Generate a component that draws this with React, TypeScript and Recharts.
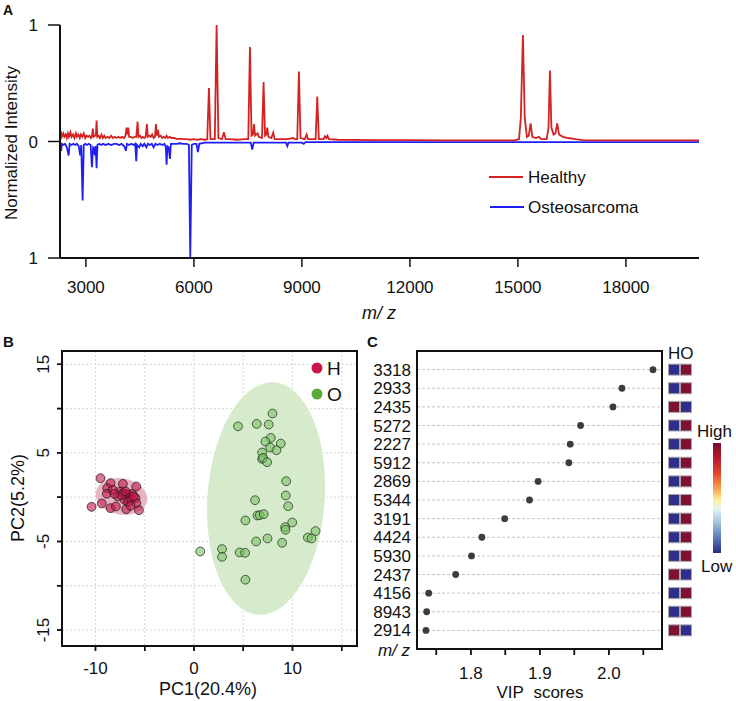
import React from 'react';
import { LineChart, Line, XAxis, YAxis, ReferenceArea, ComposedChart, Scatter, CartesianGrid } from 'recharts';

const FONT = '"Liberation Sans", Arial, Helvetica, sans-serif';
const INK = '#111111';

// ---------- Panel A: spectra ----------
const healthyMz = [
  2280, 2300, 2330, 2370, 2400, 2440, 2470, 2500, 2530, 2570, 2600, 2640, 2680, 2720, 2750, 2790, 2830, 2860, 2900, 2940,
  2980, 3020, 3060, 3100, 3140, 3170, 3194, 3215, 3250, 3275, 3296, 3318, 3350, 3390, 3430, 3470, 3510, 3550, 3600, 3650,
  3700, 3750, 3800, 3850, 3900, 3950, 4000, 4060, 4100, 4130, 4155, 4176, 4200, 4250, 4300, 4350, 4400, 4435, 4460, 4500,
  4540, 4580, 4620, 4660, 4694, 4720, 4760, 4800, 4840, 4880, 4920, 4944, 4970, 5000, 5030, 5080, 5120, 5160, 5200, 5240,
  5280, 5330, 5380, 5450, 5520, 5600, 5700, 5800, 5900, 6000, 6100, 6200, 6300, 6370, 6417, 6460, 6580, 6630, 6680, 6780,
  6833, 6880, 7000, 7200, 7400, 7510, 7556, 7600, 7640, 7667, 7700, 7769, 7800, 7890, 7935, 7975, 8010, 8037, 8070, 8150,
  8204, 8240, 8400, 8600, 8759, 8800, 8870, 8917, 8960, 9080, 9130, 9170, 9380, 9426, 9470, 9600, 9640, 9680, 9710, 9750,
  10000, 11000, 12000, 13000, 14000, 14900, 15030, 15080, 15139, 15190, 15250, 15300, 15352, 15400, 15500, 15583, 15650, 15800, 15850, 15889,
  15930, 15990, 16040, 16092, 16140, 16250, 16400, 16600, 16800, 17500, 20030,
];
const healthyInt = [
  0.06, 0.09, 0.04, 0.07, 0.04, 0.06, 0.03, 0.07, 0.04, 0.08, 0.04, 0.06, 0.03, 0.07, 0.04, 0.06, 0.03, 0.06, 0.04, 0.07,
  0.03, 0.05, 0.04, 0.05, 0.03, 0.05, 0.11, 0.04, 0.05, 0.05, 0.18, 0.04, 0.05, 0.03, 0.06, 0.03, 0.05, 0.03, 0.04, 0.03,
  0.05, 0.03, 0.04, 0.03, 0.04, 0.03, 0.04, 0.03, 0.05, 0.12, 0.06, 0.12, 0.04, 0.04, 0.03, 0.04, 0.04, 0.17, 0.04, 0.05,
  0.03, 0.04, 0.03, 0.04, 0.15, 0.04, 0.05, 0.04, 0.06, 0.03, 0.04, 0.15, 0.05, 0.1, 0.04, 0.05, 0.03, 0.04, 0.03, 0.05,
  0.03, 0.04, 0.03, 0.03, 0.02, 0.025, 0.02, 0.02, 0.015, 0.02, 0.015, 0.02, 0.015, 0.02, 0.46, 0.02, 0.02, 1.0, 0.03, 0.02,
  0.08, 0.02, 0.02, 0.015, 0.02, 0.02, 0.81, 0.05, 0.06, 0.15, 0.05, 0.07, 0.04, 0.03, 0.51, 0.05, 0.06, 0.12, 0.04, 0.03,
  0.077, 0.02, 0.02, 0.02, 0.03, 0.02, 0.02, 0.6, 0.03, 0.02, 0.06, 0.02, 0.02, 0.386, 0.02, 0.02, 0.045, 0.03, 0.05, 0.02,
  0.015, 0.012, 0.012, 0.01, 0.01, 0.01, 0.02, 0.2, 0.915, 0.2, 0.04, 0.05, 0.156, 0.04, 0.03, 0.04, 0.02, 0.02, 0.12, 0.61,
  0.12, 0.06, 0.07, 0.156, 0.06, 0.04, 0.03, 0.02, 0.012, 0.01, 0.01,
];
const osteoMz = [
  2280, 2310, 2333, 2380, 2420, 2470, 2519, 2550, 2600, 2650, 2700, 2750, 2800, 2842, 2870, 2908, 2940, 2980, 3030, 3080,
  3130, 3167, 3200, 3230, 3250, 3270, 3296, 3320, 3370, 3420, 3480, 3550, 3620, 3700, 3780, 3850, 3920, 3990, 4060, 4090,
  4111, 4140, 4200, 4260, 4330, 4370, 4398, 4420, 4480, 4520, 4580, 4620, 4680, 4720, 4780, 4830, 4880, 4930, 4990, 5050,
  5120, 5180, 5220, 5241, 5265, 5300, 5333, 5360, 5430, 5520, 5600, 5700, 5800, 5860, 5898, 5940, 6000, 6070, 6111, 6150,
  6300, 6800, 7300, 7580, 7620, 7660, 8200, 8560, 8593, 8630, 9000, 9050, 9100, 12000, 20030,
];
const osteoInt = [
  0.02, 0.08, 0.02, 0.03, 0.02, 0.05, 0.12, 0.02, 0.03, 0.02, 0.03, 0.02, 0.04, 0.12, 0.03, 0.506, 0.03, 0.02, 0.03, 0.02,
  0.03, 0.22, 0.05, 0.06, 0.12, 0.04, 0.23, 0.03, 0.02, 0.03, 0.02, 0.03, 0.02, 0.03, 0.02, 0.02, 0.03, 0.02, 0.04, 0.06,
  0.08, 0.02, 0.03, 0.02, 0.03, 0.02, 0.17, 0.03, 0.05, 0.02, 0.04, 0.02, 0.05, 0.02, 0.03, 0.02, 0.05, 0.02, 0.03, 0.02,
  0.03, 0.02, 0.05, 0.2, 0.04, 0.05, 0.15, 0.02, 0.02, 0.02, 0.015, 0.02, 0.02, 0.03, 1.0, 0.03, 0.02, 0.02, 0.09, 0.02,
  0.01, 0.01, 0.01, 0.01, 0.07, 0.01, 0.01, 0.01, 0.04, 0.01, 0.01, 0.02, 0.005, 0.005, 0.005,
];
const mzMajorTicks = [3000, 6000, 9000, 12000, 15000, 18000];
const mzMinorTicks = [4500, 7500, 10500, 13500, 16500, 19500];
const intensityMajorTicks = [-1, 0, 1];
const intensityMinorTicks = [-0.5, 0.5];
const MZ_DOMAIN: [number, number] = [2280, 20030];
const INT_DOMAIN: [number, number] = [-1, 1];

const healthyData = healthyMz.map((mz, i) => ({ mz, v: healthyInt[i] }));
const osteoData = osteoMz.map((mz, i) => ({ mz, v: -osteoInt[i] }));

// ---------- Panel B: PCA ----------
const hPc1 = [-9.49, -10.4, -9.36, -8.47, -8.81, -8.85, -8.24, -8.47, -7.93, -7.22, -5.86, -7.49, -7.22, -6.88, -6.54,
  -6.27, -6.78, -7.05, -6.71, -6.37, -5.93, -5.86, -6.88, -6.44, -5.59, -7.73, -7.39, -6.95, -6.13, -8.07];
const hPc2 = [2.14, -1.09, -0.71, 1.58, 1.02, 0.38, 0.83, -1.24, -1.05, 1.5, 1.2, 0.64, 0.45, 0.38, 0.26,
  0.38, -0.11, -0.3, -0.56, -0.3, -0.11, -0.68, -1.35, -0.98, -1.47, 0.08, 0.26, 0.64, 0.08, 0.38];
const oPc1 = [7.97, 4.47, 6.37, 7.59, 7.8, 7.25, 7.73, 8.81, 8.37, 6.92, 6.92, 7.02, 7.42, 9.36, 9.32, 6.2, 9.56, 5.22,
  6.44, 6.68, 7.08, 9.97, 9.25, 9.29, 12.34, 11.56, 11.93, 6.31, 7.46, 8.95, 0.64, 2.85, 2.85, 4.64, 5.19, 5.22];
const oPc2 = [9.44, 8.0, 8.27, 8.2, 6.69, 6.28, 5.6, 6.05, 5.3, 5.04, 4.32, 4.44, 3.95, 1.8, 0.19, -0.34, -1.02, -2.63,
  -2.07, -2.03, -1.92, -2.86, -3.38, -3.68, -3.83, -4.55, -4.66, -5.0, -4.66, -5.15, -6.13, -5.86, -6.73, -6.24, -6.28, -9.32];
const pcXTicks = [-10, -5, 0, 5, 10, 15];
const pcYTicks = [-15, -10, -5, 0, 5, 10, 15];
const PC1_DOMAIN: [number, number] = [-13.4, 16.55];
const PC2_DOMAIN: [number, number] = [-16.8, 16.5];
// confidence ellipses: centre, half-axes (data units), rotation (deg)
const hEllipse = { cx: -7.36, cy: 0.08, a: 2.64, b: 2.05, rot: 10 };
const oEllipse = { cx: 7.32, cy: -0.15, a: 5.95, b: 13.15, rot: 4 };

const hPoints = hPc1.map((x, i) => ({ x, y: hPc2[i] }));
const oPoints = oPc1.map((x, i) => ({ x, y: oPc2[i] }));

// ---------- Panel C: VIP ----------
const mzLabels = ['3318', '2933', '2435', '5272', '2227', '5912', '2869', '5344', '3191', '4424', '5930', '2437', '4156', '8943', '2914'];
const vipScores = [2.064, 2.019, 2.006, 1.959, 1.944, 1.942, 1.8975, 1.885, 1.849, 1.816, 1.801, 1.778, 1.739, 1.736, 1.735];
const hLevel = [0, 0, 1, 0, 0, 0, 0, 0, 0, 0, 0, 1, 0, 0, 1];
const oLevel = [1, 1, 0, 1, 1, 1, 1, 1, 1, 1, 1, 0, 1, 1, 0];
const vipTicks = [1.75, 1.8, 1.85, 1.9, 1.95, 2.0, 2.05];
const VIP_DOMAIN: [number, number] = [1.722, 2.077];
const ROW_DOMAIN: [number, number] = [-1, 15];
const rowTicks = mzLabels.map((_, i) => i);

const vipData = vipScores.map((v, i) => ({ x: v, y: i }));
const heatData = [
  ...hLevel.map((lv, i) => ({ x: 0, y: i, lv })),
  ...oLevel.map((lv, i) => ({ x: 1, y: i, lv })),
];
const HIGH = '#7e1230';
const LOW = '#2e2f8c';

// ---------- layout (page pixels) ----------
const B_POS = { left: 0, top: 330, width: 370, height: 371 };
const B_MARGIN = { top: 21, right: 13, bottom: 25, left: 22 };
const B_YAXIS_W = 40;
const B_XAXIS_H = 30;
const C_POS = { left: 370, top: 330, width: 366, height: 371 };
const C_MARGIN = { top: 21, right: 74, bottom: 22, left: 0 };
const C_YAXIS_W = 47;
const C_XAXIS_H = 30;

const plotBox = (pos: any, m: any, yw: number, xh: number) => ({
  left: pos.left + m.left + yw,
  right: pos.left + pos.width - m.right,
  top: pos.top + m.top,
  bottom: pos.top + pos.height - m.bottom - xh,
});
const B_BOX = plotBox(B_POS, B_MARGIN, B_YAXIS_W, B_XAXIS_H);
const C_BOX = plotBox(C_POS, C_MARGIN, C_YAXIS_W, C_XAXIS_H);
const lin = (v: number, d: [number, number], r0: number, r1: number) => r0 + ((v - d[0]) / (d[1] - d[0])) * (r1 - r0);

// ---------- tick label renderers ----------
const ATickX = (p: any) => (
  <text x={p.x} y={p.y + 26} textAnchor="middle" fontSize={17} fontFamily={FONT} fill={INK}>{p.payload.value}</text>
);
const ATickY = (p: any) => (
  <text x={p.x - 10} y={p.y + 6} textAnchor="end" fontSize={17} fontFamily={FONT} fill={INK}>{Math.abs(p.payload.value)}</text>
);
const BTickX = (p: any) => {
  const v = p.payload.value;
  return v % 10 === 0 ? (
    <text x={p.x} y={p.y + 23} textAnchor="middle" fontSize={17} fontFamily={FONT} fill={INK}>{v}</text>
  ) : <g />;
};
const BTickY = (p: any) => {
  const v = p.payload.value;
  return Math.abs(v) % 10 === 5 ? (
    <text transform={`translate(${p.x - 8},${p.y}) rotate(-90)`} textAnchor="middle" fontSize={17} fontFamily={FONT} fill={INK}>{v}</text>
  ) : <g />;
};
const CTickX = (p: any) => {
  const v = p.payload.value;
  const show = Math.abs(Math.round(v * 10) - v * 10) < 1e-6;
  return show ? (
    <text x={p.x} y={p.y + 24} textAnchor="middle" fontSize={17} fontFamily={FONT} fill={INK}>{v.toFixed(1)}</text>
  ) : <g />;
};
const CTickY = (p: any) => (
  <text x={p.x - 6} y={p.y + 6} textAnchor="end" fontSize={17} fontFamily={FONT} fill={INK}>{mzLabels[p.payload.value]}</text>
);

const ellipseShape = (rot: number, fill: string) => (p: any) => {
  const cx = p.x + p.width / 2;
  const cy = p.y + p.height / 2;
  return (
    <ellipse cx={cx} cy={cy} rx={Math.abs(p.width) / 2} ry={Math.abs(p.height) / 2} fill={fill} stroke="none"
      transform={`rotate(${rot},${cx},${cy})`} />
  );
};

const txt = { fontFamily: FONT, fill: INK } as const;
const axisStroke = { stroke: '#111', strokeWidth: 2 };
const tickStroke = { stroke: '#111', strokeWidth: 1.5 };

export default function App() {
  return (
    <div style={{ position: 'absolute', left: 0, top: 0, width: 736, height: 701, background: '#fff', fontFamily: FONT }}>
      {/* Panel A */}
      <div style={{ position: 'absolute', left: 0, top: 0 }}>
        <LineChart width={736} height={300} margin={{ top: 25, right: 37, bottom: 12, left: 20 }}>
          <XAxis type="number" dataKey="mz" domain={MZ_DOMAIN} allowDataOverflow ticks={mzMinorTicks} interval={0}
            height={0} tickSize={5} tick={false} tickLine={tickStroke} axisLine={axisStroke} />
          <YAxis type="number" domain={INT_DOMAIN} allowDataOverflow ticks={intensityMinorTicks} interval={0}
            width={0} tickSize={5} tick={false} tickLine={tickStroke} axisLine={axisStroke} />
          <XAxis xAxisId="main" type="number" dataKey="mz" domain={MZ_DOMAIN} allowDataOverflow ticks={mzMajorTicks}
            interval={0} tickSize={9} tickMargin={0} height={30} axisLine={axisStroke} tickLine={tickStroke}
            tick={(p: any) => <ATickX {...p} />} />
          <YAxis yAxisId="main" type="number" domain={INT_DOMAIN} allowDataOverflow ticks={intensityMajorTicks}
            interval={0} tickSize={12} tickMargin={0} width={40} axisLine={axisStroke} tickLine={tickStroke}
            tick={(p: any) => <ATickY {...p} />} />
          <XAxis xAxisId="top" orientation="top" type="number" domain={MZ_DOMAIN} allowDataOverflow height={0}
            tick={false} tickLine={false} axisLine={axisStroke} />
          <YAxis yAxisId="right" orientation="right" type="number" domain={INT_DOMAIN} allowDataOverflow width={0}
            tick={false} tickLine={false} axisLine={axisStroke} />
          <Line data={osteoData} dataKey="v" type="linear" stroke="#1f1ff5" strokeWidth={1.8} dot={false}
            isAnimationActive={false} />
          <Line data={healthyData} dataKey="v" type="linear" stroke="#d42222" strokeWidth={1.8} dot={false}
            isAnimationActive={false} />
        </LineChart>
      </div>

      {/* Panel B */}
      <div style={{ position: 'absolute', left: B_POS.left, top: B_POS.top }}>
        <ComposedChart width={B_POS.width} height={B_POS.height} margin={B_MARGIN}>
          <CartesianGrid stroke="#d8d8d8" strokeDasharray="2 2" />
          <XAxis type="number" dataKey="x" domain={PC1_DOMAIN} allowDataOverflow ticks={pcXTicks} interval={0}
            tickSize={5} tickMargin={0} height={B_XAXIS_H} axisLine={axisStroke} tickLine={tickStroke}
            tick={(p: any) => <BTickX {...p} />} />
          <YAxis type="number" dataKey="y" domain={PC2_DOMAIN} allowDataOverflow ticks={pcYTicks} interval={0}
            tickSize={5} tickMargin={0} width={B_YAXIS_W} axisLine={axisStroke} tickLine={tickStroke}
            tick={(p: any) => <BTickY {...p} />} />
          <ReferenceArea x1={hEllipse.cx - hEllipse.a} x2={hEllipse.cx + hEllipse.a} y1={hEllipse.cy - hEllipse.b}
            y2={hEllipse.cy + hEllipse.b} shape={ellipseShape(hEllipse.rot, '#e6b5c6')} ifOverflow="visible" />
          <ReferenceArea x1={oEllipse.cx - oEllipse.a} x2={oEllipse.cx + oEllipse.a} y1={oEllipse.cy - oEllipse.b}
            y2={oEllipse.cy + oEllipse.b} shape={ellipseShape(oEllipse.rot, '#d6ebcc')} ifOverflow="visible" />
          <Scatter data={oPoints} dataKey="y" isAnimationActive={false}
            shape={(p: any) => <circle cx={p.cx} cy={p.cy} r={4.4} fill="#7cc166" fillOpacity={0.6} stroke="#2a3a25" strokeWidth={0.8} />} />
          <Scatter data={hPoints} dataKey="y" isAnimationActive={false}
            shape={(p: any) => <circle cx={p.cx} cy={p.cy} r={4.4} fill="#c8174a" fillOpacity={0.6} stroke="#2a1a1e" strokeWidth={0.8} />} />
        </ComposedChart>
      </div>

      {/* Panel C */}
      <div style={{ position: 'absolute', left: C_POS.left, top: C_POS.top }}>
        <ComposedChart width={C_POS.width} height={C_POS.height} margin={C_MARGIN}>
          <CartesianGrid vertical={false} stroke="#c4c4c4" strokeDasharray="3 2" />
          <XAxis type="number" dataKey="x" domain={VIP_DOMAIN} allowDataOverflow ticks={vipTicks} interval={0}
            tickSize={6} tickMargin={0} height={C_XAXIS_H} axisLine={axisStroke} tickLine={tickStroke}
            tick={(p: any) => <CTickX {...p} />} />
          <YAxis type="number" dataKey="y" domain={ROW_DOMAIN} reversed allowDataOverflow ticks={rowTicks} interval={0}
            tickSize={0} tickMargin={0} width={C_YAXIS_W} axisLine={axisStroke} tickLine={false}
            tick={(p: any) => <CTickY {...p} />} />
          <Scatter data={vipData} dataKey="y" isAnimationActive={false}
            shape={(p: any) => <circle cx={p.cx} cy={p.cy} r={3.4} fill="#3c3c3c" />} />
        </ComposedChart>
      </div>

      {/* Panel C heatmap */}
      <div style={{ position: 'absolute', left: 650, top: 330 }}>
        <ComposedChart width={60} height={371} margin={{ top: 21, right: 12, bottom: 52, left: 12 }}>
          <XAxis type="number" dataKey="x" domain={[-1, 2]} hide height={0} />
          <YAxis type="number" dataKey="y" domain={ROW_DOMAIN} reversed hide width={0} />
          <Scatter data={heatData} dataKey="y" isAnimationActive={false}
            shape={(p: any) => (
              <rect x={p.cx - 5.5} y={p.cy - 5.5} width={11} height={11} fill={p.payload.lv ? HIGH : LOW}
                stroke="#a8a8a8" strokeWidth={1} />
            )} />
        </ComposedChart>
      </div>

      {/* Annotations: frames, tick marks of B and C, titles, legends */}
      <svg width={736} height={701} style={{ position: 'absolute', left: 0, top: 0, pointerEvents: 'none' }}>
        <defs>
          <linearGradient id="cbar" x1="0" y1="0" x2="0" y2="1">
            <stop offset="0" stopColor="#7a0b2e" />
            <stop offset="0.13" stopColor="#b3192b" />
            <stop offset="0.28" stopColor="#e04a2f" />
            <stop offset="0.42" stopColor="#f9a54d" />
            <stop offset="0.52" stopColor="#fbf3a2" />
            <stop offset="0.6" stopColor="#e6f3f4" />
            <stop offset="0.72" stopColor="#a1c7df" />
            <stop offset="0.86" stopColor="#5a7db6" />
            <stop offset="1" stopColor="#2a2b86" />
          </linearGradient>
        </defs>

        {/* B frame + ticks */}
        <rect x={B_BOX.left} y={B_BOX.top} width={B_BOX.right - B_BOX.left} height={B_BOX.bottom - B_BOX.top}
          fill="none" stroke={INK} strokeWidth={2} />
        {pcXTicks.map((v) => {
          const x = lin(v, PC1_DOMAIN, B_BOX.left, B_BOX.right);
          return <line key={`bx${v}`} x1={x} x2={x} y1={B_BOX.bottom} y2={B_BOX.bottom + 5} stroke={INK} strokeWidth={1.5} />;
        })}
        {pcYTicks.map((v) => {
          const y = lin(v, PC2_DOMAIN, B_BOX.bottom, B_BOX.top);
          return <line key={`by${v}`} x1={B_BOX.left - 5} x2={B_BOX.left} y1={y} y2={y} stroke={INK} strokeWidth={1.5} />;
        })}

        {/* C frame + ticks */}
        <rect x={C_BOX.left} y={C_BOX.top} width={C_BOX.right - C_BOX.left} height={C_BOX.bottom - C_BOX.top}
          fill="none" stroke={INK} strokeWidth={2} />
        {vipTicks.map((v) => {
          const x = lin(v, VIP_DOMAIN, C_BOX.left, C_BOX.right);
          return <line key={`cx${v}`} x1={x} x2={x} y1={C_BOX.bottom} y2={C_BOX.bottom + 6} stroke={INK} strokeWidth={1.5} />;
        })}

        <text x={3} y={15} fontSize={14} fontWeight="bold" {...txt}>A</text>
        <text x={3} y={347} fontSize={15} fontWeight="bold" {...txt}>B</text>
        <text x={367} y={347} fontSize={15} fontWeight="bold" {...txt}>C</text>

        <text transform="translate(17,143) rotate(-90)" textAnchor="middle" fontSize={17} {...txt}>Normalized Intensity</text>
        <text x={379} y={319} textAnchor="middle" fontSize={18} fontStyle="italic" {...txt}>m/ z</text>
        <line x1={489} x2={523} y1={177} y2={177} stroke="#d42222" strokeWidth={2} />
        <text x={528} y={183} fontSize={17} {...txt}>Healthy</text>
        <line x1={490} x2={524} y1={207} y2={207} stroke="#1f1ff5" strokeWidth={2} />
        <text x={528} y={213} fontSize={17} {...txt}>Osteosarcoma</text>

        <text transform="translate(24,498) rotate(-90)" textAnchor="middle" fontSize={18} {...txt}>PC2(5.2%)</text>
        <text x={208} y={695} textAnchor="middle" fontSize={18} {...txt}>PC1(20.4%)</text>
        <circle cx={317} cy={368} r={5.5} fill="#c8174a" />
        <text x={327} y={375} fontSize={19} {...txt}>H</text>
        <circle cx={317} cy={394} r={5.5} fill="#5aab3c" />
        <text x={327} y={401} fontSize={19} {...txt}>O</text>

        <text x={540} y={698} textAnchor="middle" fontSize={17} {...txt}>VIP{'\u00A0'} scores</text>
        <text x={410} y={656} textAnchor="end" fontSize={17} fontStyle="italic" {...txt}>m/ z</text>
        <text x={668} y={359} fontSize={17} {...txt}>HO</text>
        <text x={697} y={437} fontSize={17} {...txt}>High</text>
        <rect x={713} y={443} width={8} height={110} fill="url(#cbar)" />
        <text x={701} y={572} fontSize={17} {...txt}>Low</text>
      </svg>
    </div>
  );
}
